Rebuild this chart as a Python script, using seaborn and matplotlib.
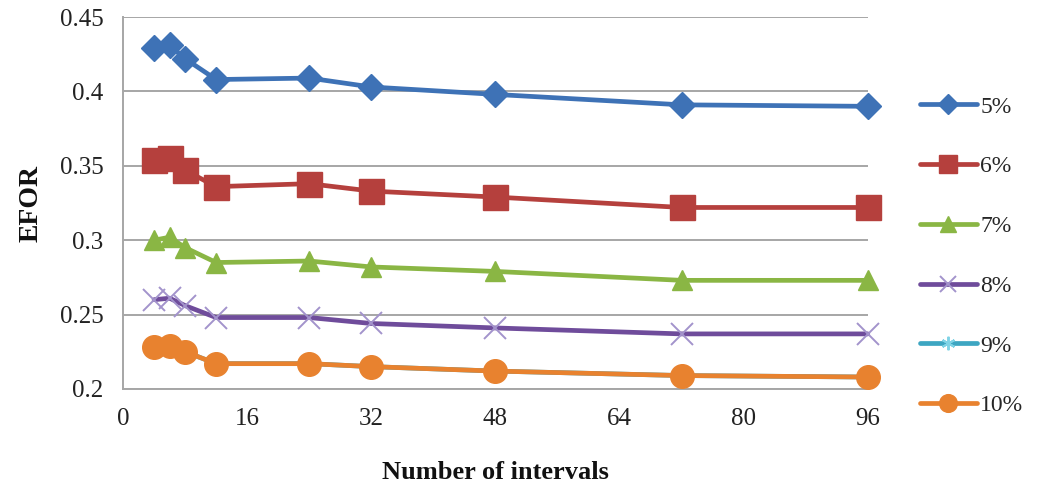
import matplotlib
matplotlib.use("Agg")
import matplotlib.pyplot as plt
import seaborn as sns
import pandas as pd
from matplotlib.lines import Line2D

intervals = [4, 6, 8, 12, 24, 32, 48, 72, 96]
series_names = ["5%", "6%", "7%", "8%", "9%", "10%"]
efor_5 = [0.429, 0.431, 0.422, 0.408, 0.409, 0.403, 0.398, 0.391, 0.390]
efor_6 = [0.354, 0.355, 0.347, 0.336, 0.338, 0.333, 0.329, 0.322, 0.322]
efor_7 = [0.300, 0.302, 0.295, 0.285, 0.286, 0.282, 0.279, 0.273, 0.273]
efor_8 = [0.260, 0.261, 0.256, 0.248, 0.248, 0.244, 0.241, 0.237, 0.237]
efor_9 = [0.228, 0.229, 0.225, 0.217, 0.217, 0.215, 0.212, 0.209, 0.208]
efor_10 = [0.228, 0.229, 0.225, 0.217, 0.217, 0.215, 0.212, 0.209, 0.208]
x_ticks = [0, 16, 32, 48, 64, 80, 96]
y_ticks = [0.2, 0.25, 0.3, 0.35, 0.4, 0.45]
y_tick_labels = ["0.2", "0.25", "0.3", "0.35", "0.4", "0.45"]

values = [efor_5, efor_6, efor_7, efor_8, efor_9, efor_10]
df = pd.DataFrame({
    "x": intervals * len(series_names),
    "y": sum(values, []),
    "s": sum([[n] * len(intervals) for n in series_names], []),
})

sns.set_theme(style="white")
plt.rcParams["font.family"] = ["Liberation Serif", "DejaVu Serif"]

colors = ["#3E72B6", "#B5403D", "#8AB644", "#6F4C9B", "#3DA6C2", "#E8822F"]
markers = ["D", "s", "^", "x", (6, 2, 0), "o"]
msizes = [13, 18, 15, 16, 13, 17]
mfc = ["#3E72B6", "#B5403D", "#8AB644", "none", "none", "#E8822F"]
mec = ["#3E72B6", "#B5403D", "#8AB644", "#A393CC", "#7FD3E6", "#E8822F"]
mew = [1, 1, 1, 1.4, 1.4, 1]

fig = plt.figure(figsize=(10.43, 4.88), dpi=100)
ax = fig.add_axes([0.118, 0.203, 0.714, 0.762])

draw_order = [4, 5, 3, 2, 1, 0]
for i in draw_order:
    name = series_names[i]
    sub = df[df["s"] == name]
    sns.lineplot(data=sub, x="x", y="y", ax=ax, color=colors[i], lw=3.4,
                 marker=markers[i], markersize=msizes[i],
                 markerfacecolor=mfc[i], markeredgecolor=mec[i],
                 markeredgewidth=mew[i], legend=False, clip_on=False,
                 zorder=3 + i * 0.1)

ax.set_xlim(0, 96)
ax.set_ylim(0.2, 0.45)
ax.set_xticks(x_ticks)
ax.set_xticklabels([str(t) for t in x_ticks])
ax.set_yticks(y_ticks)
ax.set_yticklabels(y_tick_labels)
ax.grid(axis="y", color="#A6A6A6", lw=1.4)
ax.set_axisbelow(True)
for sp in ["top", "right"]:
    ax.spines[sp].set_visible(False)
for sp in ["left", "bottom"]:
    ax.spines[sp].set_color("#A6A6A6")
    ax.spines[sp].set_linewidth(1.4)
ax.tick_params(axis="both", direction="out", length=8, width=1.4,
               color="#A6A6A6", labelsize=18, labelcolor="#222222", pad=6)
ax.set_xlabel("Number of intervals", fontsize=19, fontweight="bold",
              labelpad=22, color="#111111")
ax.set_ylabel("EFOR", fontsize=20, fontweight="bold", labelpad=12,
              color="#111111")

handles = []
for i, name in enumerate(series_names):
    handles.append(Line2D([0], [0], color=colors[i], lw=3.4, marker=markers[i],
                          markersize=msizes[i] * 0.75, markerfacecolor=mfc[i],
                          markeredgecolor=mec[i], markeredgewidth=mew[i],
                          label=name))
ax.legend(handles=handles, loc="center left", bbox_to_anchor=(1.07, 0.357),
          frameon=False, fontsize=17, handlelength=2.4, handletextpad=0.15,
          labelspacing=1.62, borderaxespad=0, borderpad=0)

fig.savefig("out.png", dpi=100)
